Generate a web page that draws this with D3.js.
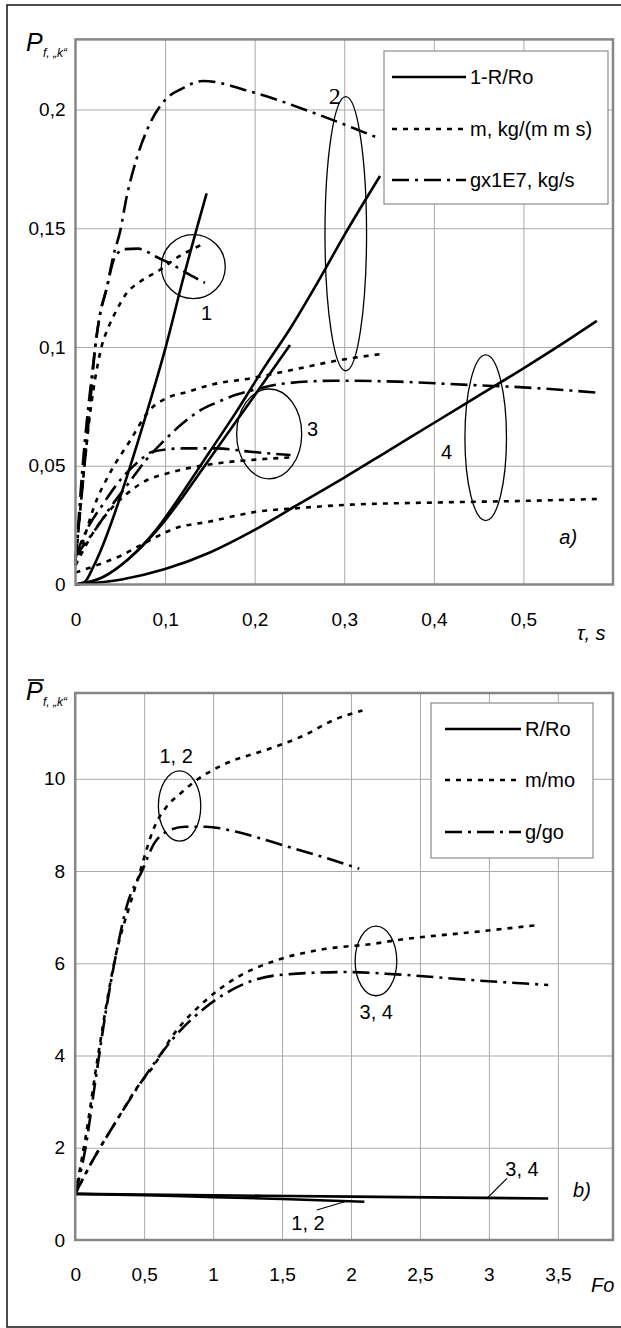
<!DOCTYPE html>
<html><head><meta charset="utf-8">
<script src="https://cdn.jsdelivr.net/npm/d3@7"></script>
<style>body{margin:0;background:#fff}svg{display:block}</style>
</head><body><svg id="c" width="621" height="1328"></svg>
<script>
const FONT = '"Liberation Sans", Arial, sans-serif';

// ---------- Panel a) data: tau (s) vs P ----------
const topXTicks = [0, 0.1, 0.2, 0.3, 0.4, 0.5];
const topXLabels = ["0", "0,1", "0,2", "0,3", "0,4", "0,5"];
const topYTicks = [0, 0.05, 0.1, 0.15, 0.2];
const topYLabels = ["0", "0,05", "0,1", "0,15", "0,2"];
const topLegend = ["1-R/Ro", "m, kg/(m m s)", "gx1E7, kg/s"];

// curve 1
const r1x = [0, 0.01, 0.02, 0.03, 0.04, 0.06, 0.08, 0.1, 0.12, 0.1464];
const r1y = [0, 0.001, 0.0075, 0.016, 0.026, 0.0485, 0.073, 0.099, 0.1285, 0.1647];
const m1x = [0, 0.005, 0.01, 0.015, 0.02, 0.025, 0.029, 0.037, 0.046, 0.057, 0.072, 0.094, 0.115, 0.135, 0.1445];
const m1y = [0.008, 0.03, 0.05, 0.068, 0.082, 0.093, 0.1, 0.1085, 0.1156, 0.1226, 0.1275, 0.1324, 0.138, 0.142, 0.1437];
const g1x = [0, 0.005, 0.01, 0.015, 0.022, 0.027, 0.035, 0.042, 0.047, 0.055, 0.07, 0.09, 0.109, 0.1315, 0.1445];
const g1y = [0.01, 0.03, 0.05, 0.07, 0.1, 0.113, 0.125, 0.136, 0.1395, 0.1412, 0.1414, 0.138, 0.1345, 0.1296, 0.127];
// curve 2
const r2x = [0, 0.03, 0.06, 0.09, 0.12, 0.15, 0.18, 0.21, 0.24, 0.27, 0.3, 0.34];
const r2y = [0, 0.003, 0.011, 0.023, 0.039, 0.056, 0.073, 0.091, 0.108, 0.127, 0.147, 0.172];
const m2x = [0, 0.01, 0.02, 0.04, 0.06, 0.083, 0.105, 0.124, 0.15, 0.195, 0.25, 0.288, 0.34];
const m2y = [0.008, 0.02, 0.032, 0.048, 0.06, 0.0735, 0.079, 0.081, 0.084, 0.0868, 0.091, 0.094, 0.097];
const g2x = [0, 0.004, 0.008, 0.013, 0.018, 0.022, 0.027, 0.035, 0.042, 0.05, 0.057, 0.068, 0.083, 0.1, 0.12, 0.142, 0.2, 0.27, 0.318, 0.338];
const g2y = [0.01, 0.03, 0.05, 0.07, 0.087, 0.1, 0.113, 0.125, 0.138, 0.149, 0.163, 0.179, 0.194, 0.204, 0.209, 0.212, 0.207, 0.198, 0.191, 0.188];
// curve 3
const r3x = [0, 0.03, 0.06, 0.083, 0.1, 0.12, 0.15, 0.18, 0.21, 0.2394];
const r3y = [0, 0.003, 0.011, 0.0195, 0.027, 0.037, 0.053, 0.069, 0.085, 0.1008];
const m3x = [0, 0.02, 0.04, 0.06, 0.08, 0.1, 0.12, 0.158, 0.195, 0.24];
const m3y = [0.008, 0.022, 0.032, 0.039, 0.044, 0.0465, 0.0485, 0.051, 0.0524, 0.0535];
const g3x = [0, 0.0125, 0.031, 0.05, 0.068, 0.087, 0.12, 0.158, 0.195, 0.24];
const g3y = [0.012, 0.023, 0.034, 0.044, 0.051, 0.056, 0.0573, 0.0573, 0.0559, 0.0545];
// curve 4
const r4x = [0, 0.05, 0.1, 0.15, 0.2, 0.25, 0.3, 0.35, 0.4, 0.45, 0.5, 0.55, 0.582];
const r4y = [0, 0.002, 0.0065, 0.0135, 0.023, 0.034, 0.045, 0.0565, 0.068, 0.0795, 0.091, 0.103, 0.111];
const m4x = [0, 0.03, 0.05, 0.07, 0.09, 0.11, 0.15, 0.2, 0.25, 0.3, 0.4, 0.5, 0.582];
const m4y = [0.005, 0.009, 0.012, 0.016, 0.02, 0.0235, 0.0265, 0.0305, 0.0322, 0.0335, 0.0345, 0.0352, 0.036];
const g4x = [0, 0.02, 0.04, 0.06, 0.08, 0.1, 0.12, 0.14, 0.16, 0.18, 0.2, 0.23, 0.29, 0.36, 0.44, 0.5, 0.582];
const g4y = [0.012, 0.022, 0.033, 0.043, 0.053, 0.061, 0.068, 0.0735, 0.077, 0.08, 0.082, 0.0845, 0.0858, 0.0854, 0.084, 0.083, 0.0808];

// annotations (data units): [cx, cy, rx, ry]
const topEllipses = [[0.1315, 0.1338, 0.0357, 0.01347], [0.3017, 0.1477, 0.0232, 0.0577],
                     [0.2162, 0.0634, 0.0363, 0.0189], [0.4579, 0.0618, 0.0232, 0.0349]];
const topNotes = [["1", 0.1464, 0.1146], ["3", 0.2647, 0.0655], ["4", 0.4143, 0.0559]];
const topSerifNote = ["2", 0.2893, 0.2061];
const topPanelTag = ["a)", 0.55, 0.0201];

// ---------- Panel b) data: Fo vs normalized P ----------
const botXTicks = [0, 0.5, 1, 1.5, 2, 2.5, 3, 3.5];
const botXLabels = ["0", "0,5", "1", "1,5", "2", "2,5", "3", "3,5"];
const botYTicks = [0, 2, 4, 6, 8, 10];
const botYLabels = ["0", "2", "4", "6", "8", "10"];
const botLegend = ["R/Ro", "m/mo", "g/go"];

const R12x = [0, 0.5, 1, 1.5, 2.097];
const R12y = [1, 0.97, 0.93, 0.89, 0.83];
const M12x = [0, 0.072, 0.172, 0.302, 0.4, 0.458, 0.575, 0.661, 0.763, 0.861, 1.063, 1.408, 1.637, 1.896, 2.083];
const M12y = [1.0, 2.17, 4.12, 6.28, 7.3, 7.87, 8.96, 9.39, 9.68, 9.93, 10.29, 10.65, 10.91, 11.3, 11.48];
const G12x = [0, 0.072, 0.144, 0.216, 0.302, 0.372, 0.487, 0.573, 0.66, 0.8, 0.945, 1.17, 1.46, 1.8, 2.06];
const G12y = [1.0, 1.95, 3.4, 4.84, 6.28, 7.22, 8.02, 8.6, 8.85, 8.96, 8.96, 8.85, 8.6, 8.3, 8.05];
const R34x = [0, 1, 2, 3.43];
const R34y = [1.0, 0.97, 0.94, 0.9];
const M34x = [0, 0.115, 0.288, 0.489, 0.546, 0.719, 0.948, 1.178, 1.465, 1.75, 2.18, 2.33, 2.9, 3.36];
const M34y = [1.0, 1.66, 2.53, 3.47, 3.68, 4.48, 5.2, 5.7, 6.07, 6.28, 6.43, 6.5, 6.68, 6.83];
const G34x = [0, 0.115, 0.288, 0.489, 0.719, 0.948, 1.23, 1.465, 1.97, 2.33, 2.9, 3.43];
const G34y = [1.0, 1.66, 2.53, 3.47, 4.4, 5.05, 5.56, 5.74, 5.81, 5.76, 5.63, 5.53];

const botEllipses = [[0.757, 9.41, 0.1537, 0.763], [2.181, 6.05, 0.151, 0.754]];
const botNotes = [["1, 2", 0.732, 10.49], ["3, 4", 2.183, 4.95], ["3, 4", 3.24, 1.554], ["1, 2", 1.688, 0.375]];
const botLeaders = [[3.131, 1.337, 2.993, 0.925], [1.752, 0.65, 1.954, 0.83]];
const botPanelTag = ["b)", 3.675, 1.083];

// ---------- drawing ----------
const svg = d3.select("#c");
svg.append("rect").attr("width", 621).attr("height", 1328).attr("fill", "#fff");
svg.append("rect").attr("x", 7).attr("y", 5).attr("width", 640).attr("height", 1322)
  .attr("fill", "none").attr("stroke", "#000").attr("stroke-width", 1.4);

const styles = {
  solid: {dash: null},
  dot: {dash: "5,6"},
  dashdot: {dash: "17,6,3,6"}
};
const zip = (xs, ys) => xs.map((v, i) => [v, ys[i]]);

function panel(cfg) {
  const x = cfg.x, y = cfg.y;
  const [x0, x1] = x.range();
  const [y0, y1] = y.range();
  const g = svg.append("g");
  // grid
  g.append("g").attr("transform", `translate(0,${y0})`)
    .call(d3.axisBottom(x).tickValues(cfg.gridX).tickSize(-(y0 - y1)).tickFormat(""))
    .call(s => { s.select(".domain").remove(); s.selectAll("line").attr("stroke", "#a9a9a9").attr("stroke-width", 1); });
  g.append("g").attr("transform", `translate(${x0},0)`)
    .call(d3.axisLeft(y).tickValues(cfg.gridY).tickSize(-(x1 - x0)).tickFormat(""))
    .call(s => { s.select(".domain").remove(); s.selectAll("line").attr("stroke", "#a9a9a9").attr("stroke-width", 1); });
  // labels
  g.append("g").attr("transform", `translate(0,${y0})`)
    .call(d3.axisBottom(x).tickValues(cfg.xTicks).tickFormat((d, i) => cfg.xLabels[i]).tickSize(0).tickPadding(28))
    .call(s => { s.select(".domain").remove(); })
    .attr("font-family", FONT).attr("font-size", 19).selectAll("text").attr("fill", "#000");
  g.append("g").attr("transform", `translate(${x0},0)`)
    .call(d3.axisLeft(y).tickValues(cfg.yTicks).tickFormat((d, i) => cfg.yLabels[i]).tickSize(0).tickPadding(10))
    .call(s => { s.select(".domain").remove(); })
    .attr("font-family", FONT).attr("font-size", 19).selectAll("text").attr("fill", "#000");

  // curves
  const line = d3.line().x(d => x(d[0])).y(d => y(d[1])).curve(d3.curveMonotoneX);
  cfg.series.forEach(s => {
    g.append("path").attr("d", line(zip(s.xs, s.ys))).attr("fill", "none")
      .attr("stroke", "#000").attr("stroke-width", 2.6)
      .attr("stroke-dasharray", styles[s.type].dash);
  });
  // ellipses
  cfg.ellipses.forEach(e => {
    g.append("ellipse").attr("cx", x(e[0])).attr("cy", y(e[1]))
      .attr("rx", x(e[2]) - x(0)).attr("ry", y(0) - y(e[3]))
      .attr("fill", "none").attr("stroke", "#000").attr("stroke-width", 1.3);
  });
  (cfg.leaders || []).forEach(l => {
    g.append("line").attr("x1", x(l[0])).attr("y1", y(l[1])).attr("x2", x(l[2])).attr("y2", y(l[3]))
      .attr("stroke", "#000").attr("stroke-width", 1.2);
  });
  cfg.notes.forEach(n => {
    g.append("text").attr("x", x(n[1])).attr("y", y(n[2])).attr("dy", "0.36em")
      .attr("text-anchor", "middle").attr("font-family", FONT).attr("font-size", 20).text(n[0]);
  });
  if (cfg.serifNote) {
    const n = cfg.serifNote;
    g.append("text").attr("x", x(n[1])).attr("y", y(n[2])).attr("dy", "0.36em")
      .attr("text-anchor", "middle").attr("font-family", '"Liberation Serif", "Times New Roman", serif')
      .attr("font-size", 24).text(n[0]);
  }
  const t = cfg.tag;
  g.append("text").attr("x", x(t[1])).attr("y", y(t[2])).attr("dy", "0.36em")
    .attr("text-anchor", "middle").attr("font-family", FONT).attr("font-style", "italic")
    .attr("font-size", 20).text(t[0]);

  // border
  g.append("rect").attr("x", x0).attr("y", y1).attr("width", x1 - x0).attr("height", y0 - y1)
    .attr("fill", "none").attr("stroke", "#868686").attr("stroke-width", 2.5);

  // legend
  const L = cfg.legendBox;
  const lg = g.append("g");
  lg.append("rect").attr("x", L.x).attr("y", L.y).attr("width", L.w).attr("height", L.h)
    .attr("fill", "#fff").attr("stroke", "#8c8c8c").attr("stroke-width", 1.2);
  cfg.legend.forEach((txt, i) => {
    const yy = L.items[i];
    lg.append("line").attr("x1", L.s0).attr("x2", L.s1).attr("y1", yy).attr("y2", yy)
      .attr("stroke", "#000").attr("stroke-width", 2.6)
      .attr("stroke-dasharray", styles[L.types[i]].dash);
    lg.append("text").attr("x", L.tx).attr("y", yy).attr("dy", "0.36em")
      .attr("font-family", FONT).attr("font-size", 20).text(txt);
  });

  // axis title
  const a = cfg.axisTitle;
  g.append("text").attr("x", a.x).attr("y", a.y).attr("font-family", FONT).attr("font-style", "italic")
    .attr("font-size", 20).text(a.text);

  // y label P with subscript
  const p = cfg.pLabel;
  g.append("text").attr("x", p.x).attr("y", p.y).attr("font-family", FONT).attr("font-style", "italic")
    .attr("font-size", 25).text("P");
  g.append("text").attr("x", p.x + 17).attr("y", p.y + 6).attr("font-family", FONT).attr("font-style", "italic")
    .attr("font-size", 12).text("f, \u201Ek\u201C");
  if (p.bar) {
    g.append("line").attr("x1", p.x + 2).attr("x2", p.x + 18).attr("y1", p.y - 20).attr("y2", p.y - 20)
      .attr("stroke", "#000").attr("stroke-width", 1.6);
  }
}

const topX = d3.scaleLinear().domain([0, 0.6]).range([75.5, 613]);
const topY = d3.scaleLinear().domain([0, 0.2295]).range([584.5, 39.4]);
panel({
  x: topX, y: topY,
  gridX: [0.1, 0.2, 0.3, 0.4, 0.5], gridY: [0.05, 0.1, 0.15, 0.2],
  xTicks: topXTicks, xLabels: topXLabels, yTicks: topYTicks, yLabels: topYLabels,
  series: [
    {xs: r1x, ys: r1y, type: "solid"}, {xs: m1x, ys: m1y, type: "dot"}, {xs: g1x, ys: g1y, type: "dashdot"},
    {xs: r2x, ys: r2y, type: "solid"}, {xs: m2x, ys: m2y, type: "dot"}, {xs: g2x, ys: g2y, type: "dashdot"},
    {xs: r3x, ys: r3y, type: "solid"}, {xs: m3x, ys: m3y, type: "dot"}, {xs: g3x, ys: g3y, type: "dashdot"},
    {xs: r4x, ys: r4y, type: "solid"}, {xs: m4x, ys: m4y, type: "dot"}, {xs: g4x, ys: g4y, type: "dashdot"}
  ],
  ellipses: topEllipses, notes: topNotes, serifNote: topSerifNote, tag: topPanelTag,
  legend: topLegend,
  legendBox: {x: 384, y: 51, w: 224, h: 153, items: [77, 129, 180], s0: 392, s1: 466, tx: 470,
              types: ["solid", "dot", "dashdot"]},
  axisTitle: {x: 577, y: 640, text: "\u03C4, s"},
  pLabel: {x: 26, y: 51, bar: false}
});

const botX = d3.scaleLinear().domain([0, 3.9]).range([75.2, 613]);
const botY = d3.scaleLinear().domain([0, 11.86]).range([1240, 693]);
panel({
  x: botX, y: botY,
  gridX: [0.5, 1, 1.5, 2, 2.5, 3, 3.5], gridY: [2, 4, 6, 8, 10],
  xTicks: botXTicks, xLabels: botXLabels, yTicks: botYTicks, yLabels: botYLabels,
  series: [
    {xs: R12x, ys: R12y, type: "solid"}, {xs: M12x, ys: M12y, type: "dot"}, {xs: G12x, ys: G12y, type: "dashdot"},
    {xs: R34x, ys: R34y, type: "solid"}, {xs: M34x, ys: M34y, type: "dot"}, {xs: G34x, ys: G34y, type: "dashdot"}
  ],
  ellipses: botEllipses, notes: botNotes, leaders: botLeaders, tag: botPanelTag,
  legend: botLegend,
  legendBox: {x: 431, y: 703, w: 162, h: 155, items: [729, 780, 832], s0: 445, s1: 521, tx: 525,
              types: ["solid", "dot", "dashdot"]},
  axisTitle: {x: 591, y: 1292, text: "Fo"},
  pLabel: {x: 26, y: 700, bar: true}
});
</script></body></html>
